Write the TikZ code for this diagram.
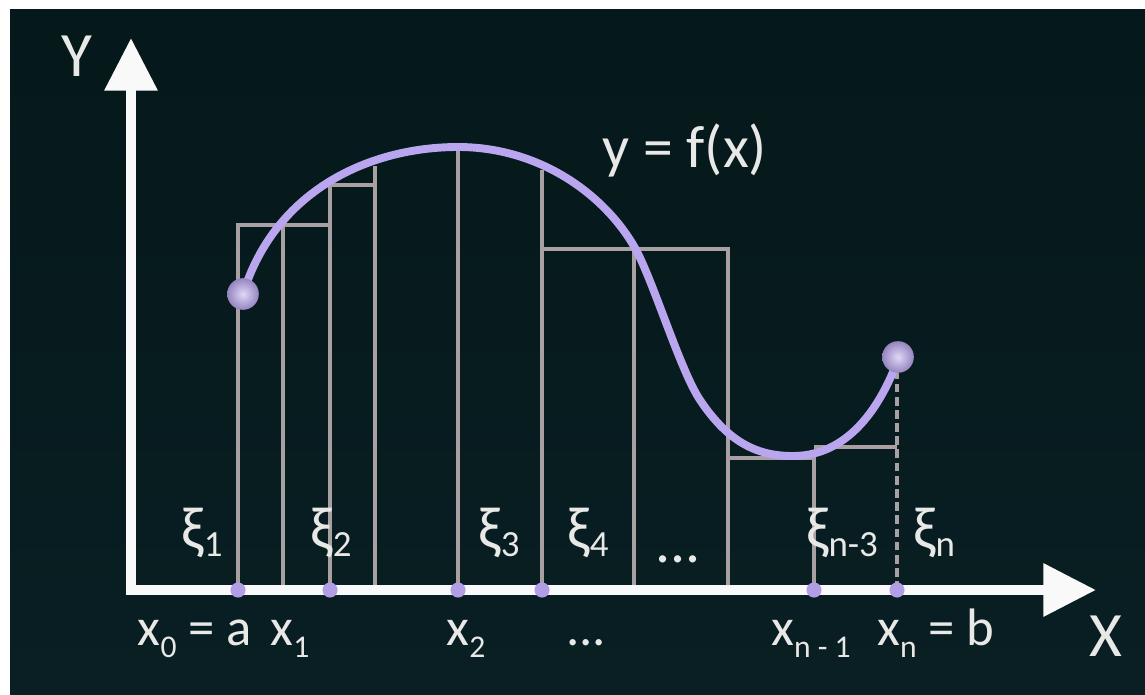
\documentclass[tikz,border=0pt]{standalone}
\usepackage{fontspec}
\setmainfont{Carlito}
\usepackage{xcolor}
\usetikzlibrary{arrows.meta}
\definecolor{bgtop}{RGB}{5,24,26}
\definecolor{bgmid}{RGB}{16,49,51}
\definecolor{bgbot}{RGB}{9,31,35}
\definecolor{rimgray}{RGB}{168,160,162}
\definecolor{curvelav}{RGB}{186,166,238}
\definecolor{dotlav}{RGB}{178,158,230}
\definecolor{labelwhite}{RGB}{232,232,230}
\newcommand{\lowsub}[1]{\raisebox{-7pt}{\fontsize{18pt}{18pt}\selectfont #1}}
\newcommand{\xisub}[1]{\raisebox{-5pt}{\fontsize{21pt}{21pt}\selectfont #1}}

\begin{document}
\begin{tikzpicture}[x=0.02cm,y=-0.02cm,
  bar/.style={draw=rimgray,line width=2.5pt},
  axis/.style={draw=white!95!gray,line width=5.7pt,line join=miter},
  lbl/.style={text=labelwhite,inner sep=0pt,anchor=base,font=\fontsize{30pt}{30pt}\selectfont},
  xilbl/.style={lbl,font=\fontsize{34pt}{34pt}\selectfont},
  axlbl/.style={text=labelwhite,inner sep=0pt,font=\fontsize{36pt}{36pt}\selectfont},
  tick/.style={fill=dotlav},
  knob/.style={inner color=white!55!curvelav,outer color=curvelav!80!black}]

  % background, white margin on top and left
  \fill[white] (0,0) rectangle (1145,695);
  \shade[top color=bgtop,middle color=bgmid,bottom color=bgbot] (10,10) rectangle (1145,695);
  \useasboundingbox (0,0) rectangle (1145,695);

  % rectangles under the curve
  \draw[bar] (238,590) -- (238,225) -- (330,225);
  \draw[bar] (283,590) -- (283,225);
  \draw[bar] (330,590) -- (330,185) -- (375,185);
  \draw[bar] (375,590) -- (375,166);
  \draw[bar] (458,590) -- (458,147);
  \draw[bar] (542,590) -- (542,170);
  \draw[bar] (542,249) -- (728,249) -- (728,590);
  \draw[bar] (634,590) -- (634,249);
  \draw[bar] (728,458) -- (814,458) -- (814,590);
  \draw[bar] (814,447) -- (897,447);
  \draw[bar,dash pattern=on 5pt off 2.5pt] (897,590) -- (897,362);

  % axes
  \draw[axis,{Triangle[length=30pt,width=29pt]}-{Triangle[length=30pt,width=29pt]}]
    (131,38) -- (131,590) -- (1096,590);
  \foreach \xx in {238,330,458,542,814,897}
    \fill[tick] (\xx,590) circle (4.3pt);

  % the function
  \draw[curvelav,line width=4.5pt,line cap=round]
    (243,294) .. controls (275,190) and (370,147) .. (458,147)
              .. controls (540,147) and (605,195) .. (635,248)
              .. controls (653,280) and (680,370) .. (700,400)
              .. controls (730,445) and (760,456) .. (793,456)
              .. controls (840,456) and (875,420) .. (897,362);
  \shade[knob] (243,294) circle (9pt);
  \shade[knob] (898,357) circle (9pt);

  % labels
  \node[axlbl] (ylbl) at (77,56) {Y};
  \node[axlbl] (xlbl) at (1106,636) {X};
  \node[axlbl,font=\fontsize{34pt}{34pt}\selectfont] (fx) at (685,150) {y = f(x)};

  \node[xilbl] (xi1) at (202,548) {ξ\xisub{1}};
  \node[xilbl] (xi2) at (331,548) {ξ\xisub{2}};
  \node[xilbl] (xi3) at (499,548) {ξ\xisub{3}};
  \node[xilbl] (xi4) at (588,548) {ξ\xisub{4}};
  \node[xilbl] (xidots) at (678,562) {...};
  \node[xilbl] (xin3) at (842,548) {ξ\xisub{n-3}};
  \node[xilbl] (xin) at (934,548) {ξ\xisub{n}};

  \node[lbl] (x0) at (195,645) {x\lowsub{0} = a};
  \node[lbl] (x1) at (290,645) {x\lowsub{1}};
  \node[lbl] (x2) at (466,645) {x\lowsub{2}};
  \node[lbl] (xdots) at (586,645) {...};
  \node[lbl] (xn1) at (811,645) {x\lowsub{n - 1}};
  \node[lbl] (xn) at (936,645) {x\lowsub{n} = b};
\end{tikzpicture}
\end{document}
